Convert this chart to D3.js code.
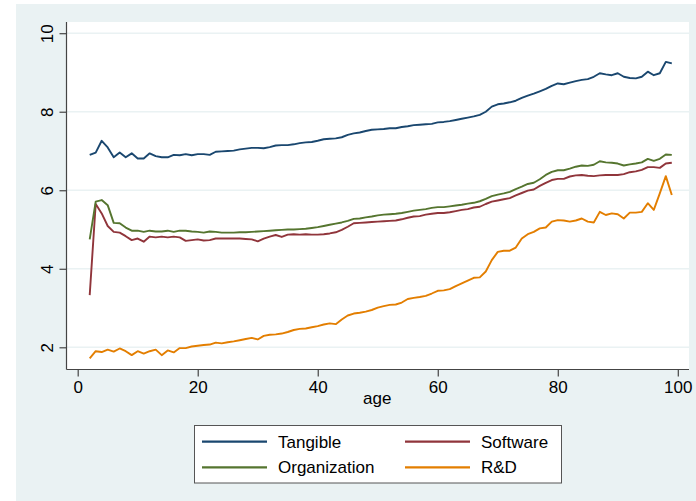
<!DOCTYPE html>
<html>
<head>
<meta charset="utf-8">
<script src="https://cdn.jsdelivr.net/npm/d3@7"></script>
<style>
  html, body { margin: 0; padding: 0; background: #ffffff; }
  svg { display: block; }
  text { font-family: "Liberation Sans", Arial, Helvetica, sans-serif; fill: #000; }
</style>
</head>
<body>
<svg id="chart" width="696" height="501"></svg>
<script>
const ages = [2,3,4,5,6,7,8,9,10,11,12,13,14,15,16,17,18,19,20,21,22,23,24,25,26,27,28,29,30,31,32,33,34,35,36,37,38,39,40,41,42,43,44,45,46,47,48,49,50,51,52,53,54,55,56,57,58,59,60,61,62,63,64,65,66,67,68,69,70,71,72,73,74,75,76,77,78,79,80,81,82,83,84,85,86,87,88,89,90,91,92,93,94,95,96,97,98,99];

const tangible = [6.90,6.96,7.26,7.09,6.84,6.96,6.84,6.94,6.81,6.81,6.94,6.87,6.84,6.84,6.90,6.89,6.92,6.89,6.92,6.92,6.90,6.98,6.99,7.00,7.01,7.04,7.06,7.08,7.08,7.07,7.10,7.14,7.15,7.15,7.17,7.20,7.22,7.23,7.26,7.30,7.31,7.32,7.35,7.41,7.45,7.47,7.51,7.54,7.55,7.56,7.58,7.58,7.61,7.63,7.66,7.67,7.68,7.69,7.73,7.74,7.76,7.79,7.82,7.85,7.88,7.92,8.00,8.13,8.19,8.21,8.24,8.28,8.35,8.41,8.46,8.52,8.58,8.66,8.72,8.70,8.74,8.78,8.81,8.83,8.89,8.98,8.95,8.93,8.98,8.89,8.86,8.85,8.89,9.02,8.93,8.98,9.27,9.23];

const software = [3.33,5.65,5.41,5.09,4.94,4.92,4.83,4.73,4.77,4.69,4.82,4.80,4.82,4.80,4.82,4.80,4.71,4.73,4.75,4.72,4.73,4.77,4.77,4.77,4.77,4.77,4.76,4.75,4.70,4.77,4.82,4.86,4.81,4.87,4.88,4.87,4.88,4.87,4.87,4.88,4.90,4.93,4.99,5.07,5.16,5.17,5.18,5.19,5.20,5.21,5.22,5.23,5.26,5.30,5.33,5.34,5.38,5.40,5.42,5.42,5.44,5.47,5.50,5.52,5.56,5.58,5.65,5.71,5.74,5.77,5.80,5.87,5.93,5.99,6.02,6.11,6.19,6.26,6.29,6.29,6.35,6.38,6.39,6.37,6.36,6.38,6.39,6.39,6.39,6.41,6.46,6.48,6.52,6.59,6.59,6.57,6.68,6.70];

const organization = [4.75,5.71,5.75,5.62,5.17,5.16,5.05,4.97,4.97,4.94,4.97,4.95,4.95,4.97,4.94,4.97,4.97,4.95,4.94,4.92,4.95,4.94,4.92,4.92,4.92,4.93,4.93,4.94,4.95,4.96,4.97,4.98,4.99,5.00,5.00,5.01,5.02,5.04,5.06,5.09,5.12,5.15,5.18,5.22,5.27,5.28,5.31,5.33,5.36,5.38,5.39,5.40,5.42,5.45,5.48,5.50,5.52,5.55,5.57,5.57,5.59,5.61,5.63,5.66,5.68,5.72,5.78,5.85,5.89,5.92,5.96,6.03,6.09,6.16,6.19,6.28,6.39,6.47,6.51,6.51,6.55,6.60,6.63,6.62,6.65,6.74,6.71,6.70,6.68,6.63,6.66,6.68,6.71,6.80,6.75,6.80,6.91,6.90];

const rnd = [1.72,1.90,1.88,1.94,1.89,1.97,1.90,1.80,1.90,1.84,1.90,1.94,1.80,1.92,1.87,1.98,1.98,2.02,2.04,2.06,2.07,2.12,2.10,2.13,2.15,2.18,2.21,2.24,2.20,2.29,2.32,2.33,2.35,2.39,2.44,2.47,2.48,2.51,2.54,2.58,2.61,2.59,2.71,2.81,2.86,2.88,2.91,2.95,3.01,3.05,3.08,3.09,3.14,3.23,3.26,3.28,3.31,3.37,3.44,3.45,3.48,3.56,3.63,3.70,3.77,3.78,3.93,4.22,4.43,4.46,4.46,4.54,4.77,4.88,4.94,5.03,5.05,5.20,5.24,5.23,5.20,5.23,5.28,5.20,5.18,5.45,5.37,5.41,5.39,5.28,5.43,5.43,5.45,5.67,5.50,5.92,6.36,5.88];

const xTicks = [0, 20, 40, 60, 80, 100];
const yTicks = [2, 4, 6, 8, 10];
const seriesNames = ["Tangible", "Software", "Organization", "R&D"];
const seriesColors = ["#1a476f", "#90353b", "#55752f", "#e37e00"];
const xTitle = "age";

const svg = d3.select("#chart");

// graph region background
svg.append("rect").attr("x", 16).attr("y", 4).attr("width", 680).attr("height", 497).attr("fill", "#eaf2f3");

const plotL = 66.5, plotR = 689, plotT = 22, plotB = 369.5;
svg.append("rect").attr("x", plotL).attr("y", plotT).attr("width", plotR - plotL).attr("height", plotB - plotT).attr("fill", "#ffffff");

const x = d3.scaleLinear().domain([0, 100]).range([77.7, 677.8]);
const y = d3.scaleLinear().domain([2, 10]).range([347.3, 33.2]);

// grid
svg.append("g").selectAll("line").data(yTicks).join("line")
  .attr("x1", plotL).attr("x2", plotR)
  .attr("y1", d => y(d)).attr("y2", d => y(d))
  .attr("stroke", "#eaf2f3").attr("stroke-width", 1.5);

// y axis
const yAxis = d3.axisLeft(y).tickValues(yTicks).tickSize(7).tickPadding(6).tickFormat(d3.format("d"));
const gy = svg.append("g").attr("transform", `translate(${plotL},0)`).call(yAxis);
gy.select(".domain").attr("d", `M0,${plotT}V${plotB}`).attr("stroke", "#444").attr("stroke-width", 1.2);
gy.selectAll(".tick line").attr("stroke", "#444").attr("stroke-width", 1.2);
gy.selectAll(".tick text")
  .attr("font-size", 17).attr("font-family", "Liberation Sans, Arial, sans-serif").attr("fill", "#000")
  .attr("x", null).attr("dy", null)
  .attr("text-anchor", "middle")
  .attr("transform", "translate(-13.5,0) rotate(-90)");

// x axis
const xAxis = d3.axisBottom(x).tickValues(xTicks).tickSize(7).tickPadding(4).tickFormat(d3.format("d"));
const gx = svg.append("g").attr("transform", `translate(0,${plotB})`).call(xAxis);
gx.select(".domain").attr("d", `M${plotL},0H${plotR}`).attr("stroke", "#444").attr("stroke-width", 1.2);
gx.selectAll(".tick line").attr("stroke", "#444").attr("stroke-width", 1.2);
gx.selectAll(".tick text")
  .attr("font-size", 17).attr("font-family", "Liberation Sans, Arial, sans-serif").attr("fill", "#000")
  .attr("dy", null).attr("y", 23.5);

svg.append("text").attr("x", x(50) - 0.5).attr("y", 404).attr("text-anchor", "middle")
  .attr("font-size", 17).text(xTitle);

// lines
const series = [tangible, software, organization, rnd];
const line = d3.line().x((d, i) => x(ages[i])).y(d => y(d));
svg.append("g").selectAll("path").data(series).join("path")
  .attr("d", d => line(d))
  .attr("fill", "none")
  .attr("stroke", (d, i) => seriesColors[i])
  .attr("stroke-width", 1.9)
  .attr("stroke-linejoin", "round");

// legend
const lg = svg.append("g");
lg.append("rect").attr("x", 194.5).attr("y", 425.5).attr("width", 367).attr("height", 57.5)
  .attr("fill", "#ffffff").attr("stroke", "#555").attr("stroke-width", 1);
const colX = [202, 405];
const rowY = [441.7, 467.3];
seriesNames.forEach((name, i) => {
  const cx = colX[i % 2], cy = rowY[Math.floor(i / 2)];
  lg.append("line").attr("x1", cx).attr("x2", cx + 65).attr("y1", cy).attr("y2", cy)
    .attr("stroke", seriesColors[i]).attr("stroke-width", 2.2);
  lg.append("text").attr("x", cx + 76).attr("y", cy + 6).attr("font-size", 17).text(name);
});
</script>
</body>
</html>
